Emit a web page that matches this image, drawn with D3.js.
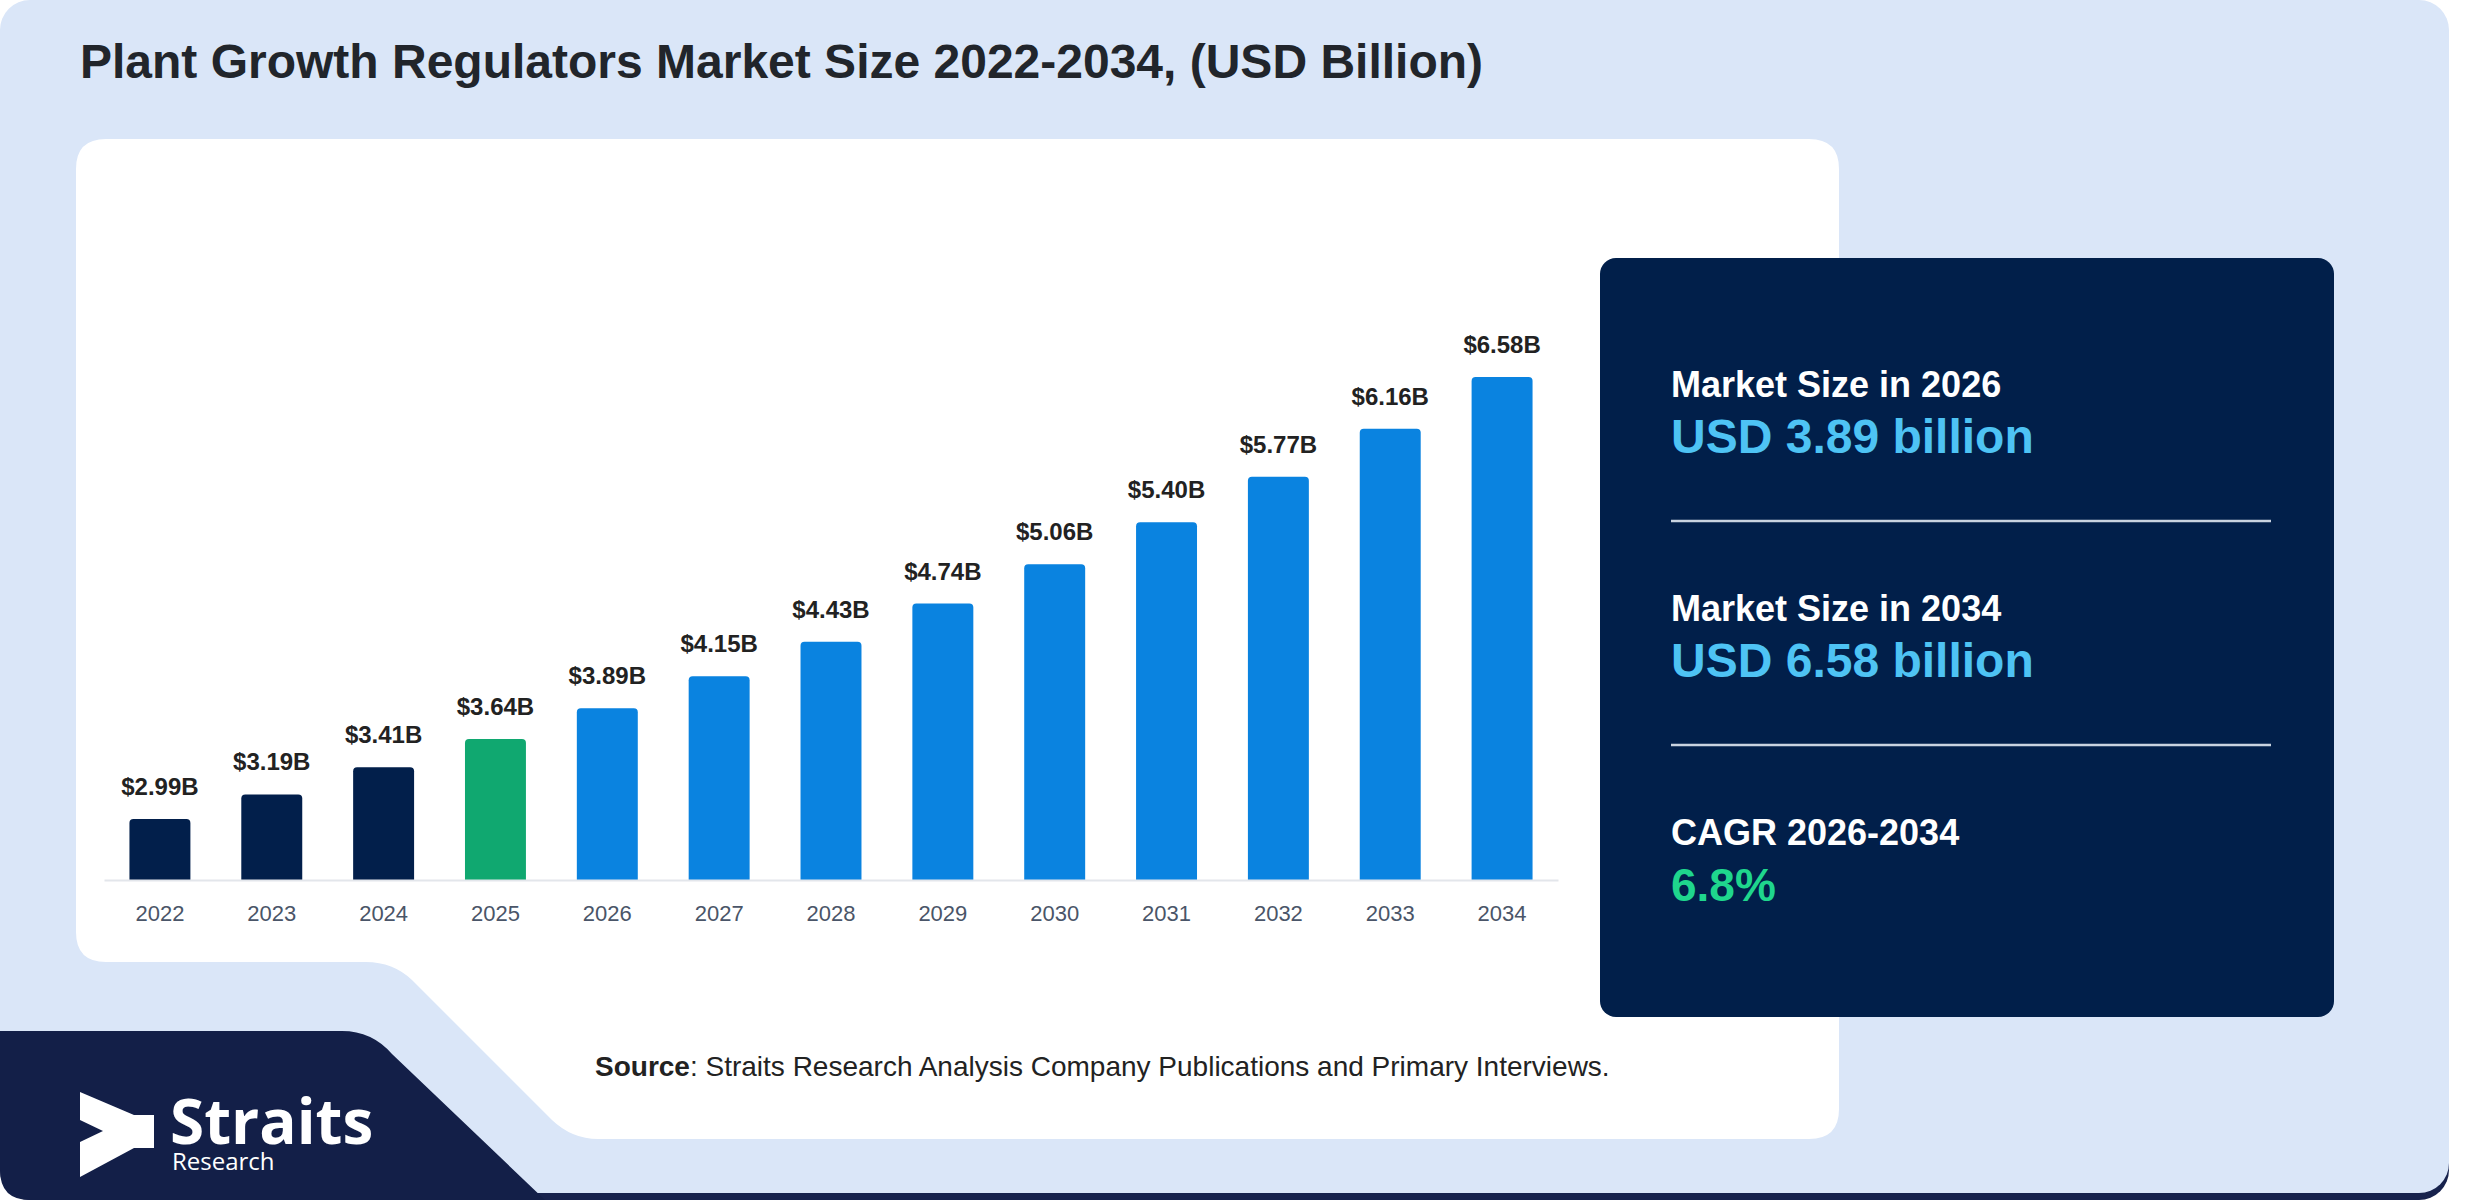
<!DOCTYPE html>
<html>
<head>
<meta charset="utf-8">
<script src="https://cdn.jsdelivr.net/npm/d3@7"></script>
<style>
  html, body { margin: 0; padding: 0; background: #ffffff; }
  svg { display: block; }
</style>
</head>
<body>
<svg id="chart" width="2480" height="1200"></svg>
<script>
// ---------- DATA ----------
const years = ["2022","2023","2024","2025","2026","2027","2028","2029","2030","2031","2032","2033","2034"];
const values = [2.99, 3.19, 3.41, 3.64, 3.89, 4.15, 4.43, 4.74, 5.06, 5.40, 5.77, 6.16, 6.58];
const periods = ["history","history","history","base","forecast","forecast","forecast","forecast","forecast","forecast","forecast","forecast","forecast"];
const titleText = "Plant Growth Regulators Market Size 2022-2034, (USD Billion)";
const panelTitles = ["Market Size in 2026", "Market Size in 2034", "CAGR 2026-2034"];
const panelValues = ["USD 3.89 billion", "USD 6.58 billion", "6.8%"];
const panelKinds = ["size", "size", "cagr"];
const sourceLabel = "Source";
const sourceText = ": Straits Research Analysis Company Publications and Primary Interviews.";

// ---------- STYLE ----------
const colorByPeriod = { history: "#021f4b", base: "#10a870", forecast: "#0a83e0" };
const valueColor = { size: "#4ec3f4", cagr: "#1fd68d" };
const FONT = "'Liberation Sans', Arial, Helvetica, sans-serif";

const svg = d3.select("#chart");

// background card
svg.append("rect").attr("x", 0).attr("y", 1000).attr("width", 2449).attr("height", 200)
  .attr("rx", 30).attr("fill", "#17224d");
svg.append("rect").attr("x", 0).attr("y", 0).attr("width", 2449).attr("height", 1193)
  .attr("rx", 30).attr("fill", "#dae6f8");

// white chart panel
svg.append("path")
  .attr("d", "M106,139 H1809 Q1839,139 1839,169 V1109 Q1839,1139 1809,1139 H598 Q572,1139 552,1120 L412,980 Q393,962 366,962 H106 Q76,962 76,932 V169 Q76,139 106,139 Z")
  .attr("fill", "#ffffff");

// navy logo block
svg.append("path")
  .attr("d", "M0,1031 H342 Q372,1031 392,1054 L545,1200 H30 Q0,1200 0,1170 Z")
  .attr("fill", "#131f48");

// title
svg.append("text").attr("x", 80).attr("y", 78)
  .attr("font-family", FONT).attr("font-weight", 700).attr("font-size", 48)
  .attr("fill", "#21252b").text(titleText);

// ---------- CHART ----------
const x = d3.scaleBand().domain(years).range([104, 1558]).paddingInner(0.455).paddingOuter(0.2275);
const y = d3.scaleLinear().domain([2.495, 6.58]).range([880, 377]);

const g = svg.append("g");
const r = 4;
g.selectAll("path.bar").data(years).join("path")
  .attr("class", "bar")
  .attr("fill", (d, i) => colorByPeriod[periods[i]])
  .attr("d", (d, i) => {
    const x0 = x(d), w = x.bandwidth(), y0 = y(values[i]), y1 = y(y.domain()[0]);
    return `M${x0},${y1} V${y0 + r} Q${x0},${y0} ${x0 + r},${y0} H${x0 + w - r} Q${x0 + w},${y0} ${x0 + w},${y0 + r} V${y1} Z`;
  });

g.selectAll("text.val").data(years).join("text")
  .attr("class", "val")
  .attr("x", d => x(d) + x.bandwidth() / 2)
  .attr("y", (d, i) => y(values[i]) - 24)
  .attr("text-anchor", "middle")
  .attr("font-family", FONT).attr("font-weight", 700).attr("font-size", 24)
  .attr("fill", "#222222")
  .text((d, i) => "$" + values[i].toFixed(2) + "B");

const axis = svg.append("g").attr("transform", "translate(0,880)")
  .call(d3.axisBottom(x).tickSize(0).tickPadding(25));
axis.select(".domain").attr("stroke", "#e3e6eb").attr("stroke-width", 2);
axis.selectAll(".tick text").attr("font-family", FONT).attr("font-size", 22).attr("fill", "#4a5568");

// ---------- RIGHT PANEL ----------
svg.append("rect").attr("x", 1600).attr("y", 258).attr("width", 734).attr("height", 759)
  .attr("rx", 16).attr("fill", "#011f4a");

const blockStep = 224;
panelTitles.forEach((t, i) => {
  const by = 397 + i * blockStep;
  svg.append("text").attr("x", 1671).attr("y", by)
    .attr("font-family", FONT).attr("font-weight", 700).attr("font-size", 36)
    .attr("fill", "#ffffff").text(t);
  svg.append("text").attr("x", 1671).attr("y", by + 56)
    .attr("font-family", FONT).attr("font-weight", 700)
    .attr("font-size", panelKinds[i] === "size" ? 48 : 46)
    .attr("fill", valueColor[panelKinds[i]]).text(panelValues[i]);
  if (i < panelTitles.length - 1) {
    svg.append("line").attr("x1", 1671).attr("x2", 2271)
      .attr("y1", by + 124).attr("y2", by + 124)
      .attr("stroke", "#c9d3e0").attr("stroke-width", 2.5);
  }
});

// ---------- SOURCE ----------
const src = svg.append("text").attr("x", 595).attr("y", 1076)
  .attr("font-family", FONT).attr("font-size", 28).attr("fill", "#222222");
src.append("tspan").attr("font-weight", 700).text(sourceLabel);
src.append("tspan").text(sourceText);

// ---------- LOGO ----------
svg.append("path")
  .attr("d", "M80,1092 L134,1115 H154 V1148 H134 L80,1177 V1142 L103,1131 L80,1120 Z")
  .attr("fill", "#ffffff");
svg.append("text").attr("x", 170).attr("y", 1144)
  .attr("font-family", "'Open Sans', 'Noto Sans', sans-serif").attr("font-weight", 700)
  .attr("font-size", 62).attr("fill", "#ffffff").text("Straits");
svg.append("text").attr("x", 172).attr("y", 1170)
  .attr("font-family", "'Open Sans', 'Noto Sans', sans-serif").attr("font-weight", 400)
  .attr("font-size", 24).attr("fill", "#ffffff").text("Research");
</script>
</body>
</html>
